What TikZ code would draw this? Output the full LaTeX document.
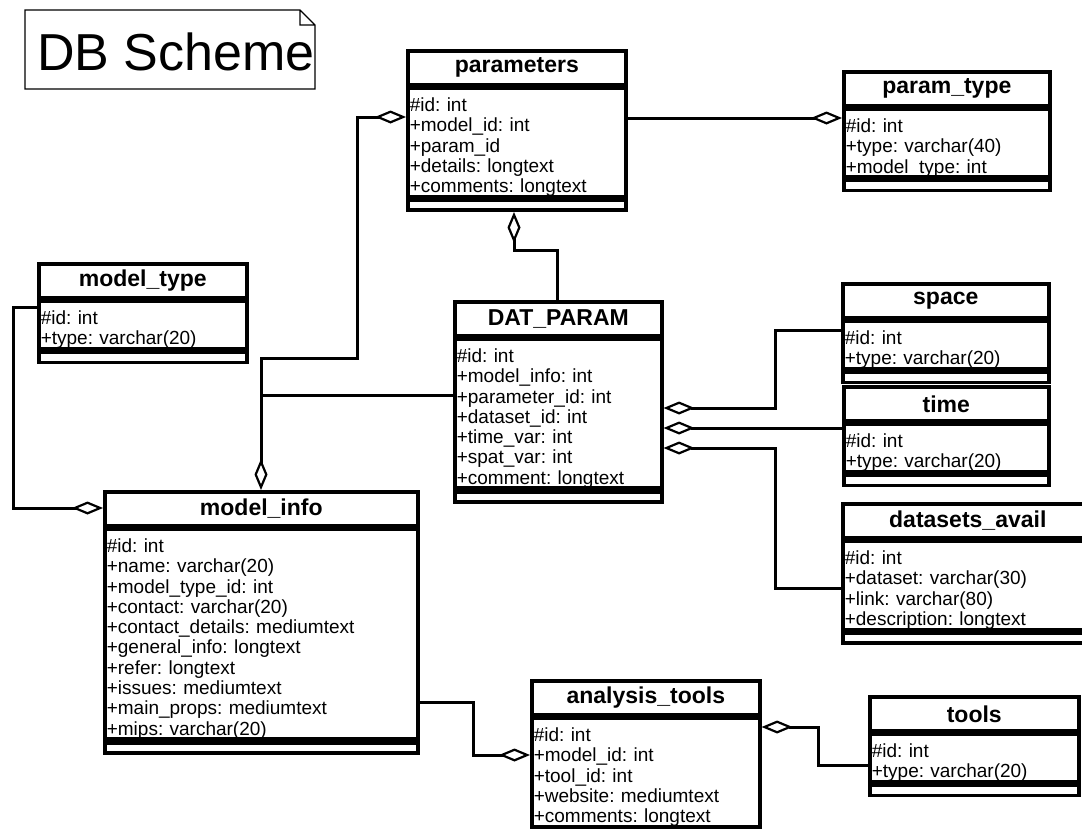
\documentclass[tikz,border=0pt]{standalone}
\usepackage{fontspec}
\setmainfont{Liberation Sans}
\usetikzlibrary{arrows.meta,positioning}
\tikzset{
  tabhead/.style={draw, line width=3.6pt, fill=white, minimum height=34pt,
    inner sep=0pt, font=\fontsize{23}{25}\selectfont\bfseries},
  tabbody/.style={draw, line width=3.6pt, fill=white, inner xsep=2pt,
    inner ysep=0pt, align=left, font=\fontsize{19}{20.3}\selectfont},
  tabfoot/.style={draw, line width=3.6pt, fill=white, minimum height=10pt,
    inner sep=0pt},
  link/.style={line width=3pt},
  aggstart/.style={link, {Diamond[open,length=31pt,width=13pt,line width=2.2pt]}-},
  aggend/.style={link, -{Diamond[open,length=31pt,width=13pt,line width=2.2pt]}},
  aggboth/.style={link, {Diamond[open,length=31pt,width=13pt,line width=2.2pt]}-{Diamond[open,length=31pt,width=13pt,line width=2.2pt]}},
  note/.style={line width=1.4pt},
}
\frenchspacing

\begin{document}
\begin{tikzpicture}[x=1pt, y=-1pt]

  \clip (0,0) rectangle (1082,828); %% page size

  %% #1 name, #2 top left, #3 width, #4 title, #5 rows
  \newcommand\dbtable[5]{%
    \node[tabhead, minimum width=#3pt, anchor=north west] (#1) at (#2) {#4};
    \node[tabbody, text width=#3pt-4pt, anchor=north west] (#1-b) at (#1.south west)
      {\rule{0pt}{23pt}#5\rule[-4pt]{0pt}{4pt}};
    \node[tabfoot, minimum width=#3pt, anchor=north west] (#1-f) at (#1-b.south west) {};
  }

  %% title note
  \draw[note] (25,10) -- (300,10) -- (315,25) -- (315,89) -- (25,89) -- cycle
    (300,10) -- (300,25) -- (315,25);
  \node[font=\fontsize{52}{52}\selectfont, anchor=base west, inner sep=0pt]
    (title) at (37,70) {DB Scheme};

  \dbtable{pm}{406,49}{218}{parameters}
    {\#id: int\\+model\_id: int\\+param\_id\\+details: longtext\\+comments: longtext}
  \dbtable{pt}{842,70}{206}{param\_type}
    {\#id: int\\+type: varchar(40)\\+model\_type: int}
  \dbtable{mt}{37,262}{208}{model\_type}
    {\#id: int\\+type: varchar(20)}
  \dbtable{dp}{453,300}{207}{DAT\_PARAM}
    {\#id: int\\+model\_info: int\\+parameter\_id: int\\+dataset\_id: int\\
     +time\_var: int\\+spat\_var: int\\+comment: longtext}
  \dbtable{sp}{841,282}{206}{space}
    {\#id: int\\+type: varchar(20)}
  \dbtable{tm}{842,385}{205}{time}
    {\#id: int\\+type: varchar(20)}
  \dbtable{ds}{841,502}{250}{datasets\_avail}
    {\#id: int\\+dataset: varchar(30)\\+link: varchar(80)\\+description: longtext}
  \dbtable{mi}{103,490}{313}{model\_info}
    {\#id: int\\+name: varchar(20)\\+model\_type\_id: int\\+contact: varchar(20)\\
     +contact\_details: mediumtext\\+general\_info: longtext\\+refer: longtext\\
     +issues: mediumtext\\+main\_props: mediumtext\\+mips: varchar(20)}
  \dbtable{at}{530,679}{228}{analysis\_tools}
    {\#id: int\\+model\_id: int\\+tool\_id: int\\+website: mediumtext\\+comments: longtext}
  \dbtable{tl}{868,695}{209}{tools}
    {\#id: int\\+type: varchar(20)}

  %% connectors
  \coordinate (mi-j) at (261,395);
  \draw[aggboth] (pm-b.west |- 0,117) -- (357,117) -- (357,358) -- (261,358)
    -- (mi.north -| 261,0);
  \draw[link] (mi-j) -- (dp-b.west |- mi-j);
  \draw[aggstart] (pm-f.south -| 514,0) -- (514,250) -| (dp.north -| 557,0);
  \draw[aggend] (pm-b.east |- 0,118) -- (pt-b.west |- 0,118);
  \draw[aggend] (mt-b.west |- 0,307) -- (13,307) |- (mi.west |- 0,508);

  \draw[aggstart] (dp-b.east |- 0,408) -| (775,330) -- (sp-b.west |- 0,330);
  \draw[aggstart] (dp-b.east |- 0,428) -- (tm-b.west |- 0,428);
  \draw[aggstart] (dp-b.east |- 0,448) -| (775,588) -- (ds-b.west |- 0,588);

  \draw[aggend] (mi-b.east |- 0,702) -| (473,755) -- (at-b.west |- 0,755);
  \draw[aggstart] (at-b.east |- 0,727) -| (818,765) -- (tl-b.west |- 0,765);

\end{tikzpicture}
\end{document}
